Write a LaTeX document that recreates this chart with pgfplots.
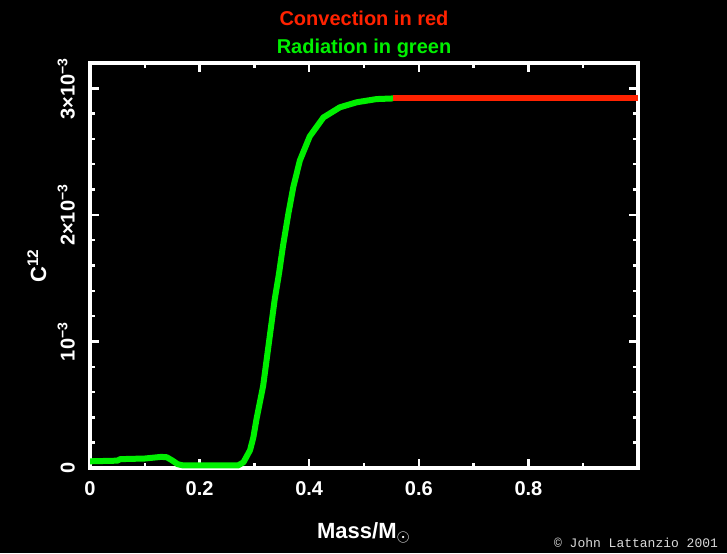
\documentclass[border=0pt]{standalone}
\usepackage{pgfplots}
\pgfplotsset{compat=1.18}
\usepackage{fontspec}
\setmainfont{Liberation Sans}
\newfontfamily\monofont{Liberation Mono}
\definecolor{convred}{RGB}{255,34,0}
\definecolor{radgreen}{RGB}{0,240,0}
\begin{document}
\begin{tikzpicture}
\fill[black] (0,0) rectangle (363.5pt,276.5pt);
\useasboundingbox (0,0) rectangle (363.5pt,276.5pt);
\begin{axis}[
  at={(45pt,42.5pt)}, anchor=south west,
  width=274pt, height=202.5pt, scale only axis,
  xmin=0, xmax=1, ymin=0, ymax=0.0032,
  axis line style={white, line width=2pt},
  every tick/.style={white, line width=1.2pt},
  tick align=inside,
  major tick length=4.5pt, minor tick length=2.5pt,
  xtick={0,0.2,0.4,0.6,0.8},
  xticklabels={0,0.2,0.4,0.6,0.8},
  minor xtick={0.1,0.3,0.5,0.7,0.9},
  ytick={0,0.001,0.002,0.003},
  yticklabels={0,10\textsuperscript{−3},2×10\textsuperscript{−3},3×10\textsuperscript{−3}},
  minor y tick num=4,
  scaled y ticks=false, scaled x ticks=false,
  ticklabel style={white, font=\bfseries\fontsize{10}{12}\selectfont},
  xticklabel style={yshift=-3pt},
  yticklabel style={rotate=90, anchor=south, yshift=4pt},
  xlabel={\bfseries Mass/M$_{\odot}$},
  xlabel style={white, at={(axis description cs:0.5,-0.16)}, anchor=center, font=\bfseries\fontsize{11}{13}\selectfont},
  ylabel={\bfseries C\textsuperscript{12}},
  ylabel style={white, at={(axis description cs:-0.097,0.5)}, anchor=center, font=\bfseries\fontsize{11}{13}\selectfont},
  title={\textcolor{convred}{Convection in red}\\\textcolor{radgreen}{Radiation in green}},
  title style={at={(axis description cs:0.5,1)}, anchor=center, yshift=8.5pt, align=center, font=\bfseries\fontsize{10}{14}\selectfont},
  clip=true,
]
\addplot[radgreen, line width=3pt, line join=round] coordinates {
(0,0.000053) (0.05,0.000058) (0.055,0.00007) (0.10,0.000075) (0.13,0.000088) (0.14,0.000085)
(0.15,0.00006) (0.16,0.00003) (0.17,0.00002) (0.27,0.00002) (0.28,0.000045)
(0.292,0.00014) (0.298,0.00024) (0.304,0.00039) (0.316,0.00065) (0.328,0.00104)
(0.337,0.00133) (0.345,0.00154) (0.352,0.00175) (0.362,0.00201) (0.371,0.00222)
(0.383,0.00243) (0.401,0.00262) (0.426,0.00277) (0.456,0.00285) (0.487,0.00289)
(0.523,0.002915) (0.553,0.00292)
};
\addplot[convred, line width=3pt] coordinates {
(0.553,0.00292) (1.0,0.00292)
};
\end{axis}
\node[anchor=east, text=white!85!black, font=\monofont\fontsize{6.5}{7}\selectfont] at (362.5pt,5pt) {© John Lattanzio 2001};
\end{tikzpicture}
\end{document}
